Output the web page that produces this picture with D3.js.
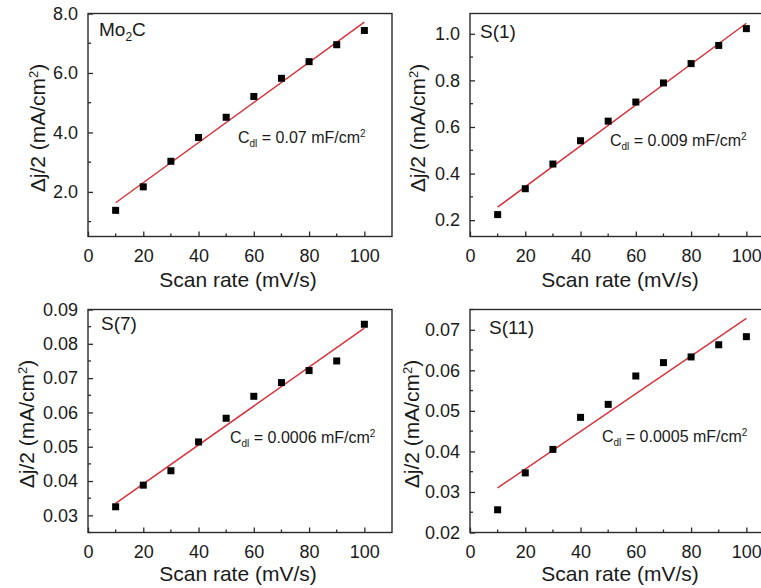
<!DOCTYPE html>
<html><head><meta charset="utf-8">
<script src="https://cdn.jsdelivr.net/npm/d3@7"></script>
<style>
html,body{margin:0;padding:0;background:#fff;}
svg{display:block;}
text{font-family:"Liberation Sans",Arial,Helvetica,sans-serif;fill:#1a1a1a;}
</style></head>
<body>
<svg id="chart" width="761" height="588"></svg>
<script>
// ---- data ----
const scanRates = [10, 20, 30, 40, 50, 60, 70, 80, 90, 100];
const mo2cValues = [1.38, 2.17, 3.03, 3.83, 4.51, 5.21, 5.82, 6.38, 6.95, 7.43];
const s1Values = [0.224, 0.335, 0.441, 0.541, 0.625, 0.707, 0.789, 0.872, 0.950, 1.022];
const s7Values = [0.0325, 0.0388, 0.0430, 0.0514, 0.0583, 0.0647, 0.0687, 0.0722, 0.0750, 0.0857];
const s11Values = [0.0256, 0.0347, 0.0405, 0.0484, 0.0516, 0.0586, 0.0619, 0.0633, 0.0663, 0.0683];
const panelNames = ["Mo2C", "S(1)", "S(7)", "S(11)"];
const cdlValues = ["0.07", "0.009", "0.0006", "0.0005"];
const xTicks = [0, 20, 40, 60, 80, 100];
const mo2cTicks = [2.0, 4.0, 6.0, 8.0];
const s1Ticks = [0.2, 0.4, 0.6, 0.8, 1.0];
const s7Ticks = [0.03, 0.04, 0.05, 0.06, 0.07, 0.08, 0.09];
const s11Ticks = [0.02, 0.03, 0.04, 0.05, 0.06, 0.07];

const svg = d3.select("#chart");
const W = 304, H = 223;
const panels = [
  {left: 88, top: 13.5, values: mo2cValues, yDom: [0.5, 8.0], ticks: mo2cTicks, fmt: d3.format(".1f"), minorStep: 1.0,
   ytx: 38, name: panelNames[0], nameX: 99, nameY: 36, cdl: cdlValues[0], cx: 238, cy: 143, titleOff: 50},
  {left: 470, top: 13.5, values: s1Values, yDom: [0.13, 1.087], ticks: s1Ticks, fmt: d3.format(".1f"), minorStep: 0.1,
   ytx: 418, name: panelNames[1], nameX: 480, nameY: 38, cdl: cdlValues[1], cx: 610, cy: 146, titleOff: 50},
  {left: 88, top: 309.5, values: s7Values, yDom: [0.025, 0.09], ticks: s7Ticks, fmt: d3.format(".2f"), minorStep: 0.005,
   ytx: 27, name: panelNames[2], nameX: 101, nameY: 330, cdl: cdlValues[2], cx: 230, cy: 443, titleOff: 48},
  {left: 470, top: 309.5, values: s11Values, yDom: [0.02, 0.075], ticks: s11Ticks, fmt: d3.format(".2f"), minorStep: 0.005,
   ytx: 412, name: panelNames[3], nameX: 489, nameY: 334, cdl: cdlValues[3], cx: 602, cy: 442, titleOff: 48}
];

const axisColor = "#2b2b2b";
const red = "#d8323c";

panels.forEach(p => {
  const g = svg.append("g").attr("transform", `translate(${p.left},${p.top})`);
  const x = d3.scaleLinear().domain([0, 110]).range([0, W]);
  const y = d3.scaleLinear().domain(p.yDom).range([H, 0]);

  // frame
  g.append("rect").attr("x", 0).attr("y", 0).attr("width", W).attr("height", H)
    .attr("fill", "none").attr("stroke", axisColor).attr("stroke-width", 1.4);

  // x axis ticks (inward)
  const xMinor = d3.range(10, 110, 20);
  const xa = g.append("g").attr("transform", `translate(0,${H})`)
    .call(d3.axisBottom(x).tickValues(xTicks).tickSize(-5).tickPadding(13).tickFormat(d3.format("d")));
  xa.select(".domain").remove();
  xa.selectAll("line").attr("stroke", axisColor).attr("stroke-width", 1.3);
  xa.selectAll("text").attr("font-size", 18).attr("fill", "#1a1a1a").attr("font-family", '"Liberation Sans",Arial,sans-serif');
  g.selectAll(".xminor").data(xMinor).enter().append("line")
    .attr("x1", d => x(d)).attr("x2", d => x(d)).attr("y1", H).attr("y2", H - 3)
    .attr("stroke", axisColor).attr("stroke-width", 1.3);

  // y axis ticks (inward)
  const ya = g.append("g")
    .call(d3.axisLeft(y).tickValues(p.ticks).tickSize(-5).tickPadding(10).tickFormat(p.fmt));
  ya.select(".domain").remove();
  ya.selectAll("line").attr("stroke", axisColor).attr("stroke-width", 1.3);
  ya.selectAll("text").attr("font-size", 18).attr("fill", "#1a1a1a").attr("font-family", '"Liberation Sans",Arial,sans-serif');
  const yMinor = [];
  for (let i = 0; i < p.ticks.length; i++) {
    const m1 = p.ticks[i] - p.minorStep;
    if (i === 0 && m1 >= p.yDom[0] - 1e-9) yMinor.push(m1);
    const m = p.ticks[i] + p.minorStep;
    if (m <= p.yDom[1] + 1e-9 && (i === p.ticks.length - 1 || m < p.ticks[i + 1] - 1e-9)) yMinor.push(m);
  }
  g.selectAll(".yminor").data(yMinor).enter().append("line")
    .attr("x1", 0).attr("x2", 3).attr("y1", d => y(d)).attr("y2", d => y(d))
    .attr("stroke", axisColor).attr("stroke-width", 1.3);

  // linear fit
  const n = scanRates.length;
  const mx = d3.mean(scanRates), my = d3.mean(p.values);
  let sxy = 0, sxx = 0;
  for (let i = 0; i < n; i++) { sxy += (scanRates[i] - mx) * (p.values[i] - my); sxx += (scanRates[i] - mx) ** 2; }
  const slope = sxy / sxx, icpt = my - slope * mx;
  const x0 = scanRates[0], x1 = scanRates[n - 1];
  g.append("line")
    .attr("x1", x(x0)).attr("y1", y(icpt + slope * x0))
    .attr("x2", x(x1)).attr("y2", y(icpt + slope * x1))
    .attr("stroke", red).attr("stroke-width", 1.5);

  // points
  const s = 7;
  g.selectAll(".pt").data(scanRates.map((d, i) => [d, p.values[i]])).enter().append("rect")
    .attr("x", d => x(d[0]) - s / 2).attr("y", d => y(d[1]) - s / 2)
    .attr("width", s).attr("height", s).attr("fill", "#000");

  // axis titles
  svg.append("text").attr("x", p.left + 150).attr("y", p.top + H + p.titleOff)
    .attr("text-anchor", "middle").attr("font-size", 21).text("Scan rate (mV/s)");
  const yt = svg.append("text")
    .attr("transform", `translate(${p.ytx},${p.top + H / 2 + 3}) rotate(-90)`)
    .attr("text-anchor", "middle").attr("dy", "0.35em").attr("font-size", 21);
  yt.append("tspan").text("Δj/2 (mA/cm");
  yt.append("tspan").attr("font-size", 13).attr("dy", "-0.6em").text("2");
  yt.append("tspan").attr("font-size", 21).attr("dy", "0.37em").text(")");

  // panel name
  const nt = svg.append("text").attr("x", p.nameX).attr("y", p.nameY).attr("font-size", 19);
  if (p.name === "Mo2C") {
    nt.append("tspan").text("Mo");
    nt.append("tspan").attr("font-size", 12).attr("dy", 5).text("2");
    nt.append("tspan").attr("dy", -5).text("C");
  } else {
    nt.text(p.name);
  }

  // Cdl annotation
  const ct = svg.append("text").attr("x", p.cx).attr("y", p.cy).attr("font-size", 16);
  ct.append("tspan").text("C");
  ct.append("tspan").attr("font-size", 10).attr("dy", 4).text("dl");
  ct.append("tspan").attr("dy", -4).text(` = ${p.cdl} mF/cm`);
  ct.append("tspan").attr("font-size", 10).attr("dy", -6).text("2");
});
</script>
</body></html>
